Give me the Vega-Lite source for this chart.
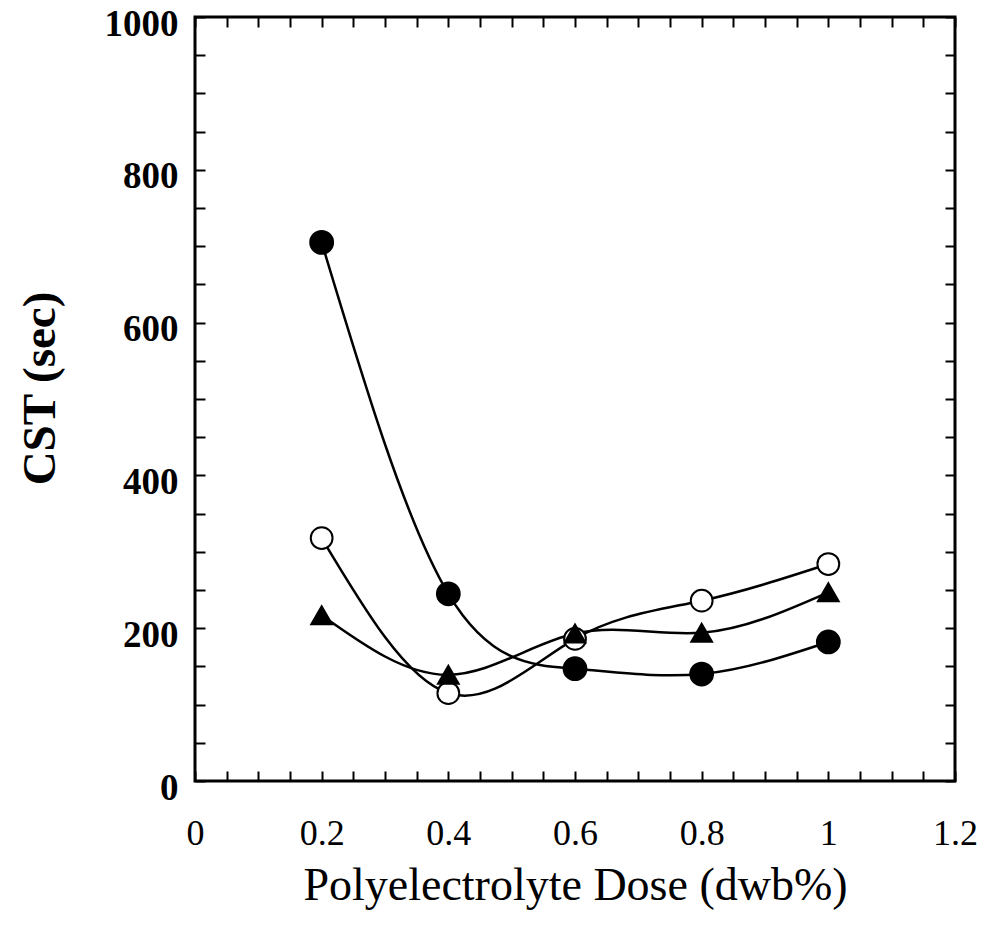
{
  "$schema": "https://vega.github.io/schema/vega-lite/v6.json",
  "width": 760,
  "height": 764,
  "autosize": "none",
  "padding": {"left": 195, "top": 17, "right": 34, "bottom": 158},
  "background": "white",
  "config": {
    "view": {"stroke": "black", "strokeWidth": 3},
    "axis": {
      "grid": false,
      "domain": false,
      "tickColor": "black",
      "tickWidth": 2,
      "tickSize": -10,
      "labelColor": "black",
      "titleColor": "black",
      "labelFont": "Liberation Serif",
      "titleFont": "Liberation Serif"
    }
  },
  "data": {
    "values": [
      {"series": "filled circle", "dose": 0.2, "cst": 705},
      {"series": "filled circle", "dose": 0.4, "cst": 245},
      {"series": "filled circle", "dose": 0.6, "cst": 147},
      {"series": "filled circle", "dose": 0.8, "cst": 140},
      {"series": "filled circle", "dose": 1.0, "cst": 182},
      {"series": "open circle", "dose": 0.2, "cst": 318},
      {"series": "open circle", "dose": 0.4, "cst": 115},
      {"series": "open circle", "dose": 0.6, "cst": 186},
      {"series": "open circle", "dose": 0.8, "cst": 236},
      {"series": "open circle", "dose": 1.0, "cst": 284},
      {"series": "triangle", "dose": 0.2, "cst": 217},
      {"series": "triangle", "dose": 0.4, "cst": 139},
      {"series": "triangle", "dose": 0.6, "cst": 193},
      {"series": "triangle", "dose": 0.8, "cst": 194},
      {"series": "triangle", "dose": 1.0, "cst": 247}
    ]
  },
  "layer": [
    {
      "mark": {"type": "line", "interpolate": "natural", "color": "black", "strokeWidth": 2.5},
      "encoding": {
        "x": {
          "field": "dose", "type": "quantitative",
          "scale": {"domain": [0, 1.2], "nice": false},
          "axis": {
            "orient": "bottom",
            "values": [0, 0.05, 0.1, 0.15, 0.2, 0.25, 0.3, 0.35, 0.4, 0.45, 0.5, 0.55, 0.6, 0.65, 0.7, 0.75, 0.8, 0.85, 0.9, 0.95, 1.0, 1.05, 1.1, 1.15, 1.2],
            "format": ".1~f",
            "labelExpr": "round(datum.value*100) % 20 == 0 ? datum.label : ''",
            "labelFontSize": 36,
            "labelPadding": 45,
            "labelFlush": false,
            "title": "Polyelectrolyte Dose (dwb%)",
            "titleFontSize": 46,
            "titleFontWeight": "normal",
            "titleBaseline": "middle",
            "titleY": 104
          }
        },
        "y": {
          "field": "cst", "type": "quantitative",
          "scale": {"domain": [0, 1000], "nice": false},
          "axis": {
            "orient": "left",
            "values": [0, 50, 100, 150, 200, 250, 300, 350, 400, 450, 500, 550, 600, 650, 700, 750, 800, 850, 900, 950, 1000],
            "format": "d",
            "labelExpr": "datum.value % 200 == 0 ? datum.label : ''",
            "labelFontSize": 37,
            "labelFontWeight": "bold",
            "labelPadding": 27,
            "labelOffset": 7,
            "labelFlush": false,
            "title": "CST (sec)",
            "titleFontSize": 47,
            "titleFontWeight": "bold",
            "titleBaseline": "middle",
            "titleX": -155,
            "titleY": 371
          }
        },
        "detail": {"field": "series"}
      }
    },
    {
      "mark": {"type": "point", "filled": false, "opacity": 1, "stroke": "black", "strokeWidth": 2},
      "encoding": {
        "x": {
          "field": "dose", "type": "quantitative",
          "axis": {
            "orient": "top",
            "values": [0, 0.05, 0.1, 0.15, 0.2, 0.25, 0.3, 0.35, 0.4, 0.45, 0.5, 0.55, 0.6, 0.65, 0.7, 0.75, 0.8, 0.85, 0.9, 0.95, 1.0, 1.05, 1.1, 1.15, 1.2],
            "labels": false,
            "title": null
          }
        },
        "y": {
          "field": "cst", "type": "quantitative",
          "axis": {
            "orient": "right",
            "values": [0, 50, 100, 150, 200, 250, 300, 350, 400, 450, 500, 550, 600, 650, 700, 750, 800, 850, 900, 950, 1000],
            "labels": false,
            "title": null
          }
        },
        "shape": {
          "field": "series", "type": "nominal",
          "scale": {"domain": ["filled circle", "open circle", "triangle"], "range": ["circle", "circle", "triangle-up"]},
          "legend": null
        },
        "fill": {
          "field": "series", "type": "nominal",
          "scale": {"domain": ["filled circle", "open circle", "triangle"], "range": ["black", "white", "black"]},
          "legend": null
        },
        "size": {
          "field": "series", "type": "nominal",
          "scale": {"domain": ["filled circle", "open circle", "triangle"], "range": [520, 430, 520]},
          "legend": null
        }
      }
    }
  ],
  "resolve": {"axis": {"x": "independent", "y": "independent"}}
}
